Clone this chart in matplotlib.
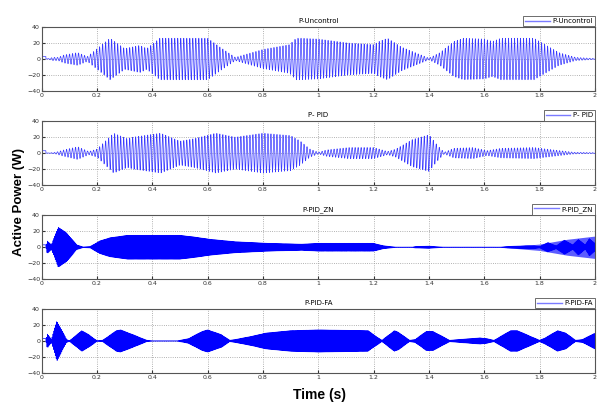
import numpy as np
import matplotlib
matplotlib.use("Agg")
import matplotlib.pyplot as plt

# Envelope knots (time s, amplitude W)
titles = ["P-Uncontrol", "P- PID", "P-PID_ZN", "P-PID-FA"]

env1_t = [0, 0.02, 0.04, 0.06, 0.08, 0.13, 0.165, 0.19, 0.247, 0.30, 0.355, 0.38, 0.427, 0.60,
          0.644, 0.70, 0.80, 0.896, 0.92, 0.94, 1.0, 1.11, 1.2, 1.22, 1.25, 1.30, 1.35, 1.40,
          1.44, 1.49, 1.525, 1.60, 1.63, 1.66, 1.78, 1.81, 1.87, 1.93, 2.0]
env1_a = [0, 0, 2, 2, 5, 8, 3, 10, 26, 13, 17, 13, 26, 26,
          15, 2, 12, 18, 26, 26, 25, 20, 18, 22, 26, 15, 8, 1,
          8, 22, 26, 25, 22, 26, 26, 20, 8, 2, 0.5]

env2_t = [0, 0.02, 0.05, 0.08, 0.13, 0.17, 0.20, 0.26, 0.31, 0.33, 0.43, 0.50, 0.55, 0.63,
          0.70, 0.74, 0.80, 0.90, 0.935, 0.97, 1.0, 1.03, 1.11, 1.20, 1.25, 1.28, 1.34, 1.40,
          1.43, 1.455, 1.49, 1.56, 1.61, 1.66, 1.78, 1.85, 1.925, 2.0]
env2_a = [0, 0, 1, 4, 8, 2, 5, 25, 18, 20, 25, 15, 18, 25,
          20, 22, 25, 22, 15, 5, 1, 4, 7, 7, 2, 5, 17, 23,
          10, 1, 6, 7, 3, 6, 7, 4, 1, 0.5]

env3_t = [0, 0.015, 0.02, 0.035, 0.06, 0.09, 0.127, 0.15, 0.175, 0.21, 0.247, 0.31, 0.39,
          0.50, 0.55, 0.61, 0.70, 0.82, 0.94, 1.0, 1.2, 1.235, 1.28, 1.34, 1.35, 1.40, 1.45,
          1.66, 1.68, 1.75, 1.78, 1.80, 1.83, 1.86, 1.89, 1.92, 1.94, 1.965, 1.98, 2.0]
env3_a = [0, 0, 8, 3, 25, 18, 3, 0.5, 1, 8, 12, 15, 15,
          15, 13, 10, 7, 5, 4, 5, 5, 2, 0.3, 0.3, 1, 1.5, 0.3,
          0.3, 1, 2, 2, 1, 6, 2, 9, 3, 10, 3, 11, 5]
# lighter halo around the end of panel 3
halo3_t = [1.68, 1.8, 1.9, 2.0]
halo3_a = [0.5, 4, 10, 14]

env4_t = [0, 0.015, 0.02, 0.035, 0.055, 0.07, 0.09, 0.10, 0.12, 0.145, 0.17, 0.20, 0.22,
          0.27, 0.285, 0.33, 0.38, 0.40, 0.49, 0.53, 0.58, 0.60, 0.65, 0.68, 0.70, 0.76,
          0.81, 0.90, 1.0, 1.18, 1.20, 1.23, 1.275, 1.29, 1.33, 1.35, 1.39, 1.415, 1.475,
          1.51, 1.585, 1.61, 1.635, 1.66, 1.695, 1.72, 1.78, 1.80, 1.82, 1.865, 1.895, 1.93,
          1.955, 2.0]
env4_a = [0, 0, 9, 2, 25, 15, 2, 0.5, 6, 13, 8, 0.5, 1,
          13, 14, 8, 1, 0.3, 0.3, 3, 12, 14, 8, 1, 2, 6,
          10, 13, 14, 13, 8, 1, 13, 11, 1, 2, 12, 12, 1,
          2, 4, 3, 1, 6, 13, 13, 4, 1, 4, 13, 10, 1,
          2, 10]

envelopes = [(env1_t, env1_a), (env2_t, env2_a), (env3_t, env3_a), (env4_t, env4_a)]
carrier_hz = [92, 92, 300, 300]
start_level = 3      # flat initial value before the oscillation starts
start_end = 0.015

x_ticks = [0, 0.2, 0.4, 0.6, 0.8, 1, 1.2, 1.4, 1.6, 1.8, 2]
x_labels = ["0", "0.2", "0.4", "0.6", "0.8", "1", "1.2", "1.4", "1.6", "1.8", "2"]
y_ticks = [-40, -20, 0, 20, 40]

# Axes rectangles in figure fractions (left, bottom, width, height)
boxes = [(0.0695, 0.775, 0.922, 0.158),
         (0.0695, 0.542, 0.922, 0.158),
         (0.0695, 0.309, 0.922, 0.158),
         (0.0695, 0.077, 0.922, 0.158)]
line_colors = ["#3a3aff", "#3a3aff", "#0000ff", "#0000ff"]

t = np.linspace(0, 2, 60001)

fig = plt.figure(figsize=(6, 4.04), dpi=100)

for i in range(4):
    ax = fig.add_axes(boxes[i])
    kt, ka = envelopes[i]
    env = np.interp(t, kt, ka)
    y = env * np.sin(2 * np.pi * carrier_hz[i] * t)
    y[t < start_end] = start_level

    if i == 2:
        halo = np.interp(t, halo3_t, halo3_a, left=0)
        ax.fill_between(t, -halo, halo, color="#5c5cff", lw=0)

    ax.plot(t, y, color=line_colors[i], lw=0.5, label=titles[i])

    ax.set_xlim(0, 2)
    ax.set_ylim(-40, 40)
    ax.set_xticks(x_ticks)
    ax.set_xticklabels(x_labels)
    ax.set_yticks(y_ticks)
    ax.tick_params(direction="in", labelsize=4.5, length=2, pad=1.2, colors="#333333")
    ax.grid(True, linestyle=":", color="#999999", lw=0.6)
    for s in ax.spines.values():
        s.set_color("#555555")
        s.set_linewidth(0.8)
    ax.set_title(titles[i], fontsize=5, pad=3)

    leg = ax.legend(loc="lower right", bbox_to_anchor=(1.0, 1.01), fontsize=5,
                    handlelength=3.5, borderpad=0.3, handletextpad=0.4,
                    fancybox=False, framealpha=1, borderaxespad=0)
    leg.get_frame().set_edgecolor("#555555")
    leg.get_frame().set_linewidth(0.6)
    for h in leg.get_lines():
        h.set_color("#7a7aff")
        h.set_linewidth(1.0)

fig.text(0.032, 0.5, "Active Power (W)", rotation=90, ha="center", va="center",
         fontsize=9.5, fontweight="bold", family="Liberation Sans")
fig.text(0.533, 0.022, "Time (s)", ha="center", va="center",
         fontsize=10, fontweight="bold", family="Liberation Sans")

fig.savefig("out.png", dpi=100, facecolor="white")
